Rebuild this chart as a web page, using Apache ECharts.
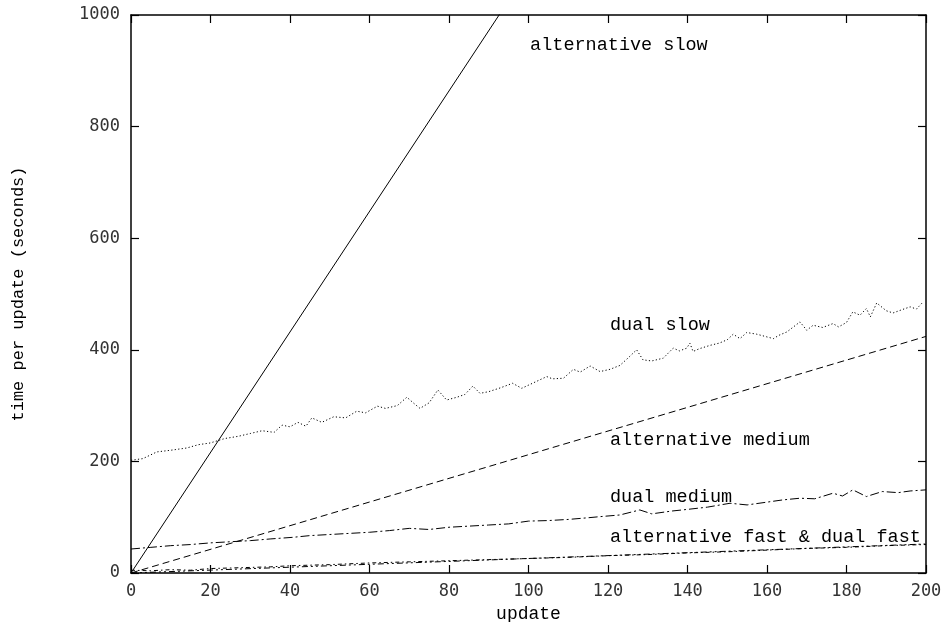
<!DOCTYPE html>
<html><head><meta charset="utf-8">
<script src="https://cdn.jsdelivr.net/npm/echarts@6/dist/echarts.min.js"></script>
<style>html,body{margin:0;padding:0;background:#fff}#c{width:943px;height:622px}</style>
</head><body><div id="c"></div>
<script>
// ---- data ----
var xTicks = [0,20,40,60,80,100,120,140,160,180,200];
var yTicks = [0,200,400,600,800,1000];
var altSlow = [[0,0],[92.6,1000],[200,2160]];
var altMedium = [[0,0],[200,424]];
var dualSlow = [[0,202],[3,205],[6.5,217],[10,220],[14,224],[17,230],[19.9,233],[23.6,241],[27,245],[30,250],[33,255],[36,252],[38,265],[40,262],[42,270],[44,263],[45.5,278],[48,270],[51,280],[54,278],[56.8,290],[59,287],[62,299],[64,295],[67,300],[69.4,315],[71,305],[72.7,295],[75,305],[77.2,328],[79.4,310],[82,315],[84,320],[86,335],[87.8,322],[90,325],[93,332],[96,340],[98.3,331],[101,340],[104.6,352],[106,348],[108.8,349],[111.3,365],[113,360],[115.5,371],[118,361],[120.5,365],[123,372],[125,385],[127.2,400],[128.8,382],[131,380],[133.9,385],[136.4,403],[138,398],[139.8,403],[140.6,412],[141.4,397],[143,402],[145.7,408],[148,412],[150,418],[151.5,428],[153.2,420],[154.9,431],[157.4,428],[159,425],[161.6,420],[163,426],[165,432],[168.3,450],[170,435],[171.6,444],[174,440],[176.6,447],[178,441],[180,449],[181.6,468],[183.4,462],[185,474],[186,459],[187.6,484],[190,470],[191.7,466],[194,472],[196,477],[197.6,473],[199.3,486]];
var dualMedium = [[0,43],[5,46],[10,49],[15,51],[20,54],[25,56],[30,58],[35,61],[40.8,64],[45,67],[50,69],[55,71],[60,73],[65,76],[70,80],[75,78],[80,82],[85,84],[90,86],[95,88],[100,93],[105,94],[110,96],[115,99],[118,101],[123,104],[128,113],[131,106],[136,111],[140,114],[145,118],[150.7,125],[155,122],[160,127],[164,131],[168.3,134],[172,133],[176.6,143],[179,138],[181.6,149],[185,137],[189,146],[193,144],[196,147],[200,149]];
var altFast = [[0,0],[200,52]];
var dualFast = [[0,5],[5,4],[10,6],[15,5],[20,8],[25,9],[30,10],[35,11],[40,13],[45,14],[50,15],[60,18],[70,20],[80,22],[90,24],[100,26],[110,28],[120,31],[130,33],[140,36],[150,38],[160,41],[170,44],[180,46],[190,49],[200,51]];
var labels = [
  {text:'alternative slow', at:[100.4,946]},
  {text:'dual slow', at:[120.5,444]},
  {text:'alternative medium', at:[120.5,238]},
  {text:'dual medium', at:[120.5,136]},
  {text:'alternative fast & dual fast', at:[120.5,64]}
];

var tickFont = 'DejaVu Sans Mono';
var textFont = 'Liberation Mono';
var chart = echarts.init(document.getElementById('c'), null, {renderer:'canvas'});
function axisBase(pos, show){
  return {
    type:'value', position:pos, min:0,
    axisLine:{show:true, onZero:false, lineStyle:{color:'#000', width:1.5}},
    axisTick:{show:true, inside:true, length:8, lineStyle:{color:'#000', width:1.2}},
    splitLine:{show:false},
    axisLabel:{show:show, color:'#333', fontFamily:tickFont, fontSize:17, formatter:function(v){return String(v);}}
  };
}
var xb = Object.assign(axisBase('bottom', true), {max:200, interval:20, name:'update', nameLocation:'middle', nameGap:32, nameTextStyle:{fontFamily:textFont, fontSize:18, color:'#000'}});
xb.axisLabel.margin = 10;
var xt = Object.assign(axisBase('top', false), {max:200, interval:20});
var yl = Object.assign(axisBase('left', true), {max:1000, interval:200, name:'time per update (seconds)', nameLocation:'middle', nameGap:104, nameRotate:90, nameTextStyle:{fontFamily:textFont, fontSize:17, color:'#000'}});
yl.axisLabel.margin = 11;
var yr = Object.assign(axisBase('right', false), {max:1000, interval:200});

function line(name, data, type){
  return {name:name, type:'line', data:data, showSymbol:false, symbol:'none', clip:true,
    xAxisIndex:0, yAxisIndex:0, animation:false,
    lineStyle:{color:'#000', width:1, type:type}};
}
chart.setOption({
  animation:false,
  grid:{left:131, right:17, top:15, bottom:49, containLabel:false, outerBoundsMode:'none'},
  xAxis:[xb, xt],
  yAxis:[yl, yr],
  series:[
    line('alternative slow', altSlow, 'solid'),
    line('alternative medium', altMedium, [7,4]),
    line('dual slow', dualSlow, [1.2,2.3]),
    line('dual medium', dualMedium, [9,3,2,3]),
    line('alternative fast', altFast, [6,3,2,3,2,3]),
    line('dual fast', dualFast, [4,3,1.5,3])
  ]
});
var g = labels.map(function(l){
  var p = chart.convertToPixel({xAxisIndex:0, yAxisIndex:0}, l.at);
  return {type:'text', x:p[0], y:p[1], style:{text:l.text, fontFamily:textFont, fontSize:18.5, fill:'#000', textVerticalAlign:'middle', textAlign:'left'}};
});
chart.setOption({graphic:g});
</script></body></html>
